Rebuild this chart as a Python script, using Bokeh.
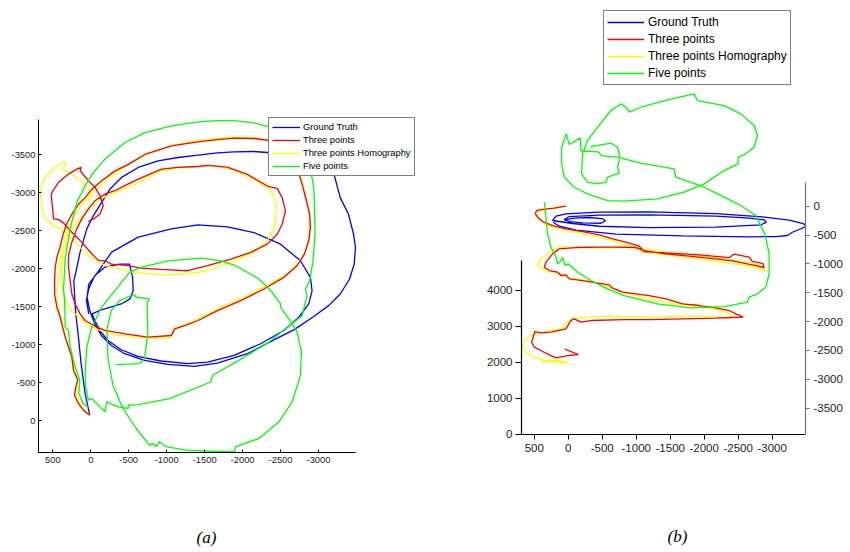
from bokeh.plotting import figure
from bokeh.models import Range1d, LinearAxis, FixedTicker, Legend, LegendItem
from bokeh.layouts import row
from bokeh.embed import file_html
from bokeh.resources import INLINE

# ---------------- data: panel (a) ----------------
series_names = ["Ground Truth", "Three points", "Three points Homography", "Five points"]
series_colors = ["#0000ff", "#ff0000", "#ffff00", "#00ff00"]
captions = ["(a)", "(b)"]

a_x_ticks = [500, 0, -500, -1000, -1500, -2000, -2500, -3000]
a_x_tick_labels = ["500", "0", "-500", "-1000", "-1500", "-2000", "-2500", "-3000"]
a_y_ticks = [0, -500, -1000, -1500, -2000, -2500, -3000, -3500]
a_y_tick_labels = ["0", "-500", "-1000", "-1500", "-2000", "-2500", "-3000", "-3500"]

blue_a = [(13,-74),(74,-358),(127,-752),(162,-1101),(197,-1407),(214,-1669),(223,-1844),(205,-1914),(140,-2220),(52,-2526),
          (-35,-2701),(-144,-2875),(-253,-3050),(-406,-3203),(-625,-3334),(-887,-3422),(-1149,-3465),(-1412,-3496),(-1669,-3527),(-1888,-3540),
          (-2150,-3544),(-2325,-3531),(-2674,-3496),(-2980,-3417),(-3199,-3264),(-3286,-2937),(-3395,-2718),(-3461,-2456),(-3487,-2281),(-3470,-2063),
          (-3409,-1866),(-3286,-1669),(-3133,-1516),(-2937,-1372),(-2674,-1197),(-2412,-1066),(-2063,-883),(-1669,-760),(-1363,-717),(-1014,-743),
          (-708,-795),(-446,-883),(-271,-992),(-140,-1123),(-52,-1276),(13,-1451),(48,-1626),(26,-1800),(-79,-1936),(-275,-2220),
          (-625,-2417),(-1062,-2526),(-1412,-2578),(-1800,-2552),(-2150,-2478),(-2500,-2325),(-2762,-2106),(-2893,-1888),(-2915,-1713),(-2871,-1538),
          (-2740,-1363),(-2543,-1189),(-2237,-1014),(-1888,-861),(-1538,-773),(-1276,-752),(-926,-787),(-621,-848),(-402,-935),(-227,-1058),
          (-118,-1189),(-44,-1342),(-17,-1407),(-140,-1460),(-402,-1538),(-516,-1604),(-559,-1713),(-551,-1888),(-511,-2063),(-380,-2063),
          (-188,-2023),(-52,-1910),(26,-1739),(57,-1582),(26,-1407)]

red_a = [(13,-74),(96,-140),(162,-227),(214,-336),(197,-446),(170,-533),(227,-664),(249,-839),(293,-970),(336,-1101),(371,-1232),
         (402,-1363),(446,-1495),(476,-1669),(476,-1844),(468,-2019),(446,-2150),(406,-2281),(363,-2456),(319,-2587),(249,-2718),
         (162,-2849),(74,-2937),(-13,-3046),(-140,-3155),(-315,-3286),(-494,-3374),(-712,-3505),(-1062,-3618),(-1412,-3671),
         (-1669,-3701),(-1888,-3719),(-2150,-3715),(-2412,-3680),(-2631,-3548),(-2718,-3330),(-2784,-3111),(-2841,-2893),(-2884,-2718),
         (-2893,-2543),(-2871,-2369),(-2814,-2194),(-2718,-2041),(-2543,-1888),(-2281,-1735),(-1975,-1582),(-1669,-1451),(-1412,-1320),
         (-1237,-1254),(-1106,-1210),(-1062,-1123),(-756,-1101),(-450,-1145),(-188,-1189),(-79,-1232),(74,-1320),(140,-1407),(205,-1538),
         (249,-1669),(271,-1844),(293,-2019),(293,-2176),(249,-2351),(184,-2526),(118,-2657),(31,-2788),(-57,-2897),(-188,-2985),
         (-319,-3028),(-450,-3094),(-625,-3181),(-931,-3312),(-1149,-3334),(-1412,-3347),(-1538,-3361),(-1800,-3339),(-2063,-3243),
         (-2325,-3090),(-2456,-3059),(-2521,-2937),(-2565,-2762),(-2521,-2587),(-2456,-2456),(-2325,-2325),(-2106,-2216),(-1844,-2128),
         (-1538,-2041),(-1276,-1975),(-1101,-1984),(-926,-1993),(-664,-2010),(-489,-2041),(-271,-2063),(-188,-2106),(-101,-2111),
         (-13,-2198),(118,-2351),(249,-2482),(358,-2605),(424,-2648),(489,-2657),(520,-2963),(511,-3007),(424,-3138),(293,-3247),
         (184,-3312),(127,-3334),(140,-3291),(31,-3160),(-57,-3072),(-122,-2963),(-166,-2832),(-122,-2723),(-35,-2657),(31,-2622)]

yellow_a = [(13,-74),(87,-149),(157,-249),(201,-358),(184,-446),(170,-542),(219,-673),(245,-839),(284,-970),(328,-1093),(358,-1232),
            (393,-1363),(428,-1495),(446,-1669),(428,-1844),(406,-2019),(393,-2150),(363,-2281),(328,-2456),(275,-2587),(210,-2718),
            (122,-2849),(26,-2945),(-74,-3059),(-192,-3155),(-358,-3286),(-533,-3395),(-752,-3513),(-1079,-3627),(-1412,-3688),
            (-1669,-3715),(-1888,-3732),(-2150,-3723),(-2412,-3688),(-2631,-3570),(-2731,-3330),(-2806,-3068),(-2858,-2849),(-2884,-2631),
            (-2875,-2412),(-2827,-2237),(-2740,-2084),(-2587,-1932),(-2325,-1779),(-2019,-1626),(-1713,-1495),(-1451,-1363),(-1237,-1267),
            (-1106,-1219),(-1036,-1093),(-883,-1084),(-756,-1093),(-538,-1110),(-319,-1132),(-101,-1197),(74,-1285),(162,-1372),(249,-1442),
            (315,-1530),(358,-1669),(380,-1844),(385,-2019),(371,-2194),(332,-2325),(275,-2456),(201,-2587),(101,-2696),(-9,-2814),
            (-140,-2924),(-315,-3002),(-489,-3076),(-664,-3155),(-883,-3278),(-1149,-3330),(-1412,-3347),(-1626,-3361),(-1888,-3299),
            (-2150,-3177),(-2347,-3059),(-2412,-2958),(-2447,-2806),(-2421,-2543),(-2325,-2369),(-2150,-2216),(-1888,-2106),(-1538,-1975),
            (-1276,-1932),(-926,-1923),(-577,-1949),(-188,-2045),(-13,-2133),(118,-2264),(249,-2395),(380,-2526),(489,-2570),(599,-2657),
            (642,-2788),(664,-2985),(651,-3094),(599,-3203),(468,-3334),(358,-3409),(328,-3378),(380,-3312),(249,-3247),(74,-3116),
            (-13,-2963),(31,-2897)]

green_a = [(35,-184),(101,-227),(157,-358),(144,-533),(205,-708),(271,-970),(293,-1189),(336,-1232),(345,-1582),(358,-1739),
           (336,-2133),(271,-2526),(184,-2875),(74,-3094),(-35,-3269),(-188,-3444),(-450,-3662),(-712,-3793),(-1062,-3881),(-1412,-3933),
           (-1669,-3950),(-1888,-3950),(-2150,-3920),(-2325,-3876),(-2587,-3767),(-2806,-3548),(-2915,-3199),(-2937,-3068),(-2945,-2893),
           (-2954,-2456),(-2928,-2106),(-2884,-1844),(-2827,-1735),(-2849,-1647),(-2784,-1385),(-2347,-1036),(-1910,-773),(-1604,-599),
           (-1582,-511),(-1036,-293),(-625,-214),(-494,-205),(-494,-162),(-363,-184),(-210,-249),(-188,-118),(-13,-293),(31,-271),
           (66,-446),(74,-621),(52,-970),(-13,-1232),(-144,-1495),(-319,-1713),(-511,-1953),(-664,-2019),(-1014,-2106),(-1451,-2141),
           (-1713,-2106),(-1910,-2041),(-2216,-1866),(-2390,-1691),(-2500,-1538),(-2500,-1495),(-2609,-1342),(-2718,-1167),(-2775,-905),
           (-2762,-599),(-2653,-249),(-2478,13),(-2216,232),(-1910,341),(-1888,406),(-1691,406),(-1254,385),(-992,341),(-905,275),
           (-861,341),(-817,297),(-773,319),(-599,101),(-424,-162),(-293,-468),(-227,-817),(-214,-1210),(-271,-1451),(-380,-1582),
           (-511,-1639),(-577,-1656),(-599,-1626),(-773,-1604),(-743,-1560),(-752,-1167),(-708,-817),(-642,-752),(-336,-739)]

# ---------------- data: panel (b) ----------------
b_x_ticks = [500, 0, -500, -1000, -1500, -2000, -2500, -3000]
b_x_tick_labels = ["500", "0", "-500", "-1000", "-1500", "-2000", "-2500", "-3000"]
b_left_ticks = [0, 1000, 2000, 3000, 4000]
b_left_tick_labels = ["0", "1000", "2000", "3000", "4000"]
b_right_ticks = [0, -500, -1000, -1500, -2000, -2500, -3000, -3500]
b_right_tick_labels = ["0", "-500", "-1000", "-1500", "-2000", "-2500", "-3000", "-3500"]

blue_b = [(34,-231),(-88,-208),(-309,-196),(-515,-219),(-544,-254),(-480,-295),(-211,-289),(-15,-266),(59,-231),(-15,-179),
          (-456,-156),(-1191,-150),(-2171,-173),(-2661,-208),(-2881,-237),(-2916,-277),(-2832,-323),(-2171,-364),(-1191,-370),
          (-456,-347),(-64,-300),(230,-248),(181,-173),(34,-133),(-456,-104),(-1191,-98),(-2171,-127),(-2857,-185),(-3249,-243),
          (-3469,-306),(-3494,-352),(-3396,-404),(-3298,-451),(-3224,-508),(-3053,-526),(-2661,-531),(-1681,-514),(-701,-485),
          (-113,-416),(132,-347),(221,-277)]

red_b = [(34,0),(108,-12),(206,-35),(304,-46),(402,-58),(466,-75),(485,-133),(451,-191),(377,-266),(230,-335),(34,-393),
         (-211,-439),(-456,-497),(-652,-566),(-848,-624),(-1044,-693),(-1117,-786),(-1436,-809),(-1926,-843),(-2367,-890),
         (-2440,-832),(-2661,-884),(-2710,-959),(-2783,-970),(-2867,-999),(-2881,-1063),(-2759,-1028),(-2416,-947),(-1926,-884),
         (-1436,-826),(-1117,-768),(-995,-716),(-701,-710),(-456,-710),(-113,-716),(132,-739),(230,-826),(328,-970),(353,-1057),
         (279,-1115),(157,-1144),(108,-1201),(34,-1190),(-15,-1259),(-211,-1288),(-603,-1363),(-652,-1421),(-799,-1490),
         (-1191,-1548),(-1436,-1606),(-1681,-1692),(-1926,-1721),(-2171,-1762),(-2367,-1808),(-2465,-1866),(-2573,-1923),
         (-2416,-1929),(-2171,-1941),(-1681,-1952),(-1191,-1964),(-823,-1964),(-333,-1981),(-186,-2010),(-88,-1952),(-39,-1981),
         (34,-2126),(255,-2183),(402,-2195),(490,-2172),(510,-2241),(539,-2357),(500,-2443),(377,-2518),(279,-2576),(181,-2628),
         (10,-2588),(-147,-2570),(49,-2478)]

yellow_b = [(34,0),(132,-17),(230,-35),(328,-46),(426,-92),(466,-150),(426,-208),(353,-306),(181,-381),(-64,-439),(-358,-508),
            (-603,-578),(-799,-653),(-995,-722),(-1093,-786),(-1436,-843),(-1926,-913),(-2416,-999),(-2759,-1057),(-2906,-1132),
            (-2857,-1057),(-2661,-970),(-2367,-924),(-1926,-855),(-1436,-797),(-1093,-739),(-995,-699),(-701,-716),(-211,-716),
            (132,-710),(230,-768),(377,-884),(451,-1017),(377,-1086),(279,-1132),(132,-1155),(-15,-1248),(-309,-1294),(-603,-1404),
            (-799,-1490),(-1191,-1606),(-1583,-1692),(-1975,-1750),(-2269,-1808),(-2416,-1895),(-2367,-1935),(-2171,-1912),
            (-1681,-1906),(-1191,-1923),(-701,-1906),(-211,-1923),(-64,-1952),(10,-2010),(108,-2126),(255,-2154),(451,-2212),
            (549,-2241),(647,-2328),(686,-2414),(647,-2501),(500,-2617),(353,-2674),(157,-2703),(-15,-2720),(157,-2674),(402,-2703)]

green_b = [(353,69),(328,-191),(304,-479),(255,-710),(181,-884),(157,-999),(108,-941),(83,-884),(49,-1028),(0,-999),
           (-137,-1144),(-333,-1288),(-578,-1432),(-823,-1548),(-1313,-1692),(-1803,-1762),(-2293,-1739),(-2636,-1663),(-2661,-1577),
           (-2783,-1519),(-2906,-1404),(-2955,-1173),(-2955,-826),(-2891,-479),(-2759,-162),(-2538,12),(-2293,156),(-1999,329),
           (-1583,503),(-1558,647),(-1068,745),(-725,849),(-480,878),(-456,936),(-186,965),(-176,1184),(-15,1069),(29,1253),
           (98,1022),(98,734),(59,503),(-88,329),(-284,214),(-578,98),(-823,87),(-1313,127),(-1705,243),(-1999,387),(-2293,618),
           (-2499,734),(-2499,849),(-2612,907),(-2734,1022),(-2783,1225),(-2734,1398),(-2538,1600),(-2293,1744),(-1901,1831),
           (-1852,1947),(-1460,1843),(-1068,1715),(-897,1629),(-848,1715),(-774,1773),(-627,1658),(-431,1369),(-284,1138),
           (-211,907),(-196,560),(-284,416),(-431,387),(-554,416),(-578,503),(-750,572),(-725,676),(-760,849),(-725,1022),
           (-627,1092),(-323,1034)]

TICK_FONT = "Liberation Sans"
TICK_COLOR = "#222222"


def style_axis(ax, ticks, labels, size, tick_in, tick_out, standoff, color="#000000", width=1):
    ax.ticker = FixedTicker(ticks=ticks)
    ax.major_label_overrides = {t: s for t, s in zip(ticks, labels)}
    ax.major_label_text_font = TICK_FONT
    ax.major_label_text_font_size = size
    ax.major_label_text_color = TICK_COLOR
    ax.major_label_standoff = standoff
    ax.major_tick_in = tick_in
    ax.major_tick_out = tick_out
    ax.major_tick_line_color = color
    ax.axis_line_color = color
    ax.axis_line_width = width
    ax.minor_tick_line_color = None


def caption_axis(x_pos, text, standoff):
    ax = LinearAxis(ticker=FixedTicker(ticks=[x_pos]), major_label_overrides={x_pos: text})
    ax.axis_line_color = None
    ax.major_tick_line_color = None
    ax.minor_tick_line_color = None
    ax.major_tick_in = 0
    ax.major_tick_out = 0
    ax.major_label_standoff = standoff
    ax.major_label_text_font = "Liberation Serif"
    ax.major_label_text_font_style = "italic"
    ax.major_label_text_font_size = "17px"
    ax.major_label_text_color = "#000000"
    return ax


def add_lines(p, data, order):
    rs = {}
    for i in order:
        pts = data[i]
        rs[i] = p.line([q[0] for q in pts], [q[1] for q in pts], line_color=series_colors[i], line_width=1.3)
    return rs


def make_legend(rs, loc, font_size, glyph_w, row_h, standoff):
    items = [LegendItem(label=series_names[i], renderers=[rs[i]]) for i in range(4)]
    return Legend(items=items, location=loc, margin=0, padding=3, spacing=1,
                  glyph_width=glyph_w, glyph_height=row_h, label_height=row_h,
                  label_standoff=standoff, label_text_font=TICK_FONT,
                  label_text_font_size=font_size, label_text_color="#000000",
                  border_line_color="#000000", border_line_width=1,
                  background_fill_color="#ffffff", background_fill_alpha=1.0)


# ---------------- panel (a) ----------------
pa = figure(width=430, height=552, output_backend="svg", toolbar_location=None,
            x_range=Range1d(688, -4343), y_range=Range1d(417, -5426),
            x_axis_type=None, y_axis_type=None,
            min_border_left=38, min_border_right=10, min_border_top=8, min_border_bottom=100)
pa.outline_line_color = None

xa = LinearAxis(bounds=(-3487, 688))
style_axis(xa, a_x_ticks, a_x_tick_labels, "9.4px", 3, 0, 4)
pa.add_layout(xa, "below")
pa.add_layout(caption_axis(-1525, captions[0], 62), "below")
ya = LinearAxis(bounds=(-3964, 417))
style_axis(ya, a_y_ticks, a_y_tick_labels, "9.4px", 3, 0, 3)
pa.add_layout(ya, "left")

rs_a = add_lines(pa, [blue_a, red_a, yellow_a, green_a], [0, 2, 1, 3])
pa.add_layout(make_legend(rs_a, (230, 276), "9.3px", 28, 12, 3))

# ---------------- panel (b) ----------------
pb = figure(width=420, height=552, output_backend="svg", toolbar_location=None,
            x_range=Range1d(688, -3490), y_range=Range1d(-4268, 3426),
            x_axis_type=None, y_axis_type=None,
            min_border_left=91, min_border_right=45, min_border_top=8, min_border_bottom=100)
pb.extra_y_ranges = {"left": Range1d(-500, 11833)}
pb.outline_line_color = None

xb = LinearAxis(fixed_location=-3956)
style_axis(xb, b_x_ticks, b_x_tick_labels, "11.5px", 0, 5, 5, width=1.2)
pb.add_layout(xb, "below")
pb.add_layout(caption_axis(-1607, captions[1], 74), "below")
yl = LinearAxis(y_range_name="left", bounds=(0, 4842))
style_axis(yl, b_left_ticks, b_left_tick_labels, "11.5px", 0, 6, 3, width=1.2)
pb.add_layout(yl, "left")
yr = LinearAxis(bounds=(-3956, 416))
style_axis(yr, b_right_ticks, b_right_tick_labels, "11.5px", 0, 4, 4, color="#707070", width=1.2)
pb.add_layout(yr, "right")

rs_b = add_lines(pb, [blue_b, red_b, yellow_b, green_b], [0, 2, 1, 3])
pb.add_layout(make_legend(rs_b, (82, 367), "12px", 37, 16, 4))

layout = row(pa, pb)
open("out.html", "w").write(file_html(layout, INLINE))
